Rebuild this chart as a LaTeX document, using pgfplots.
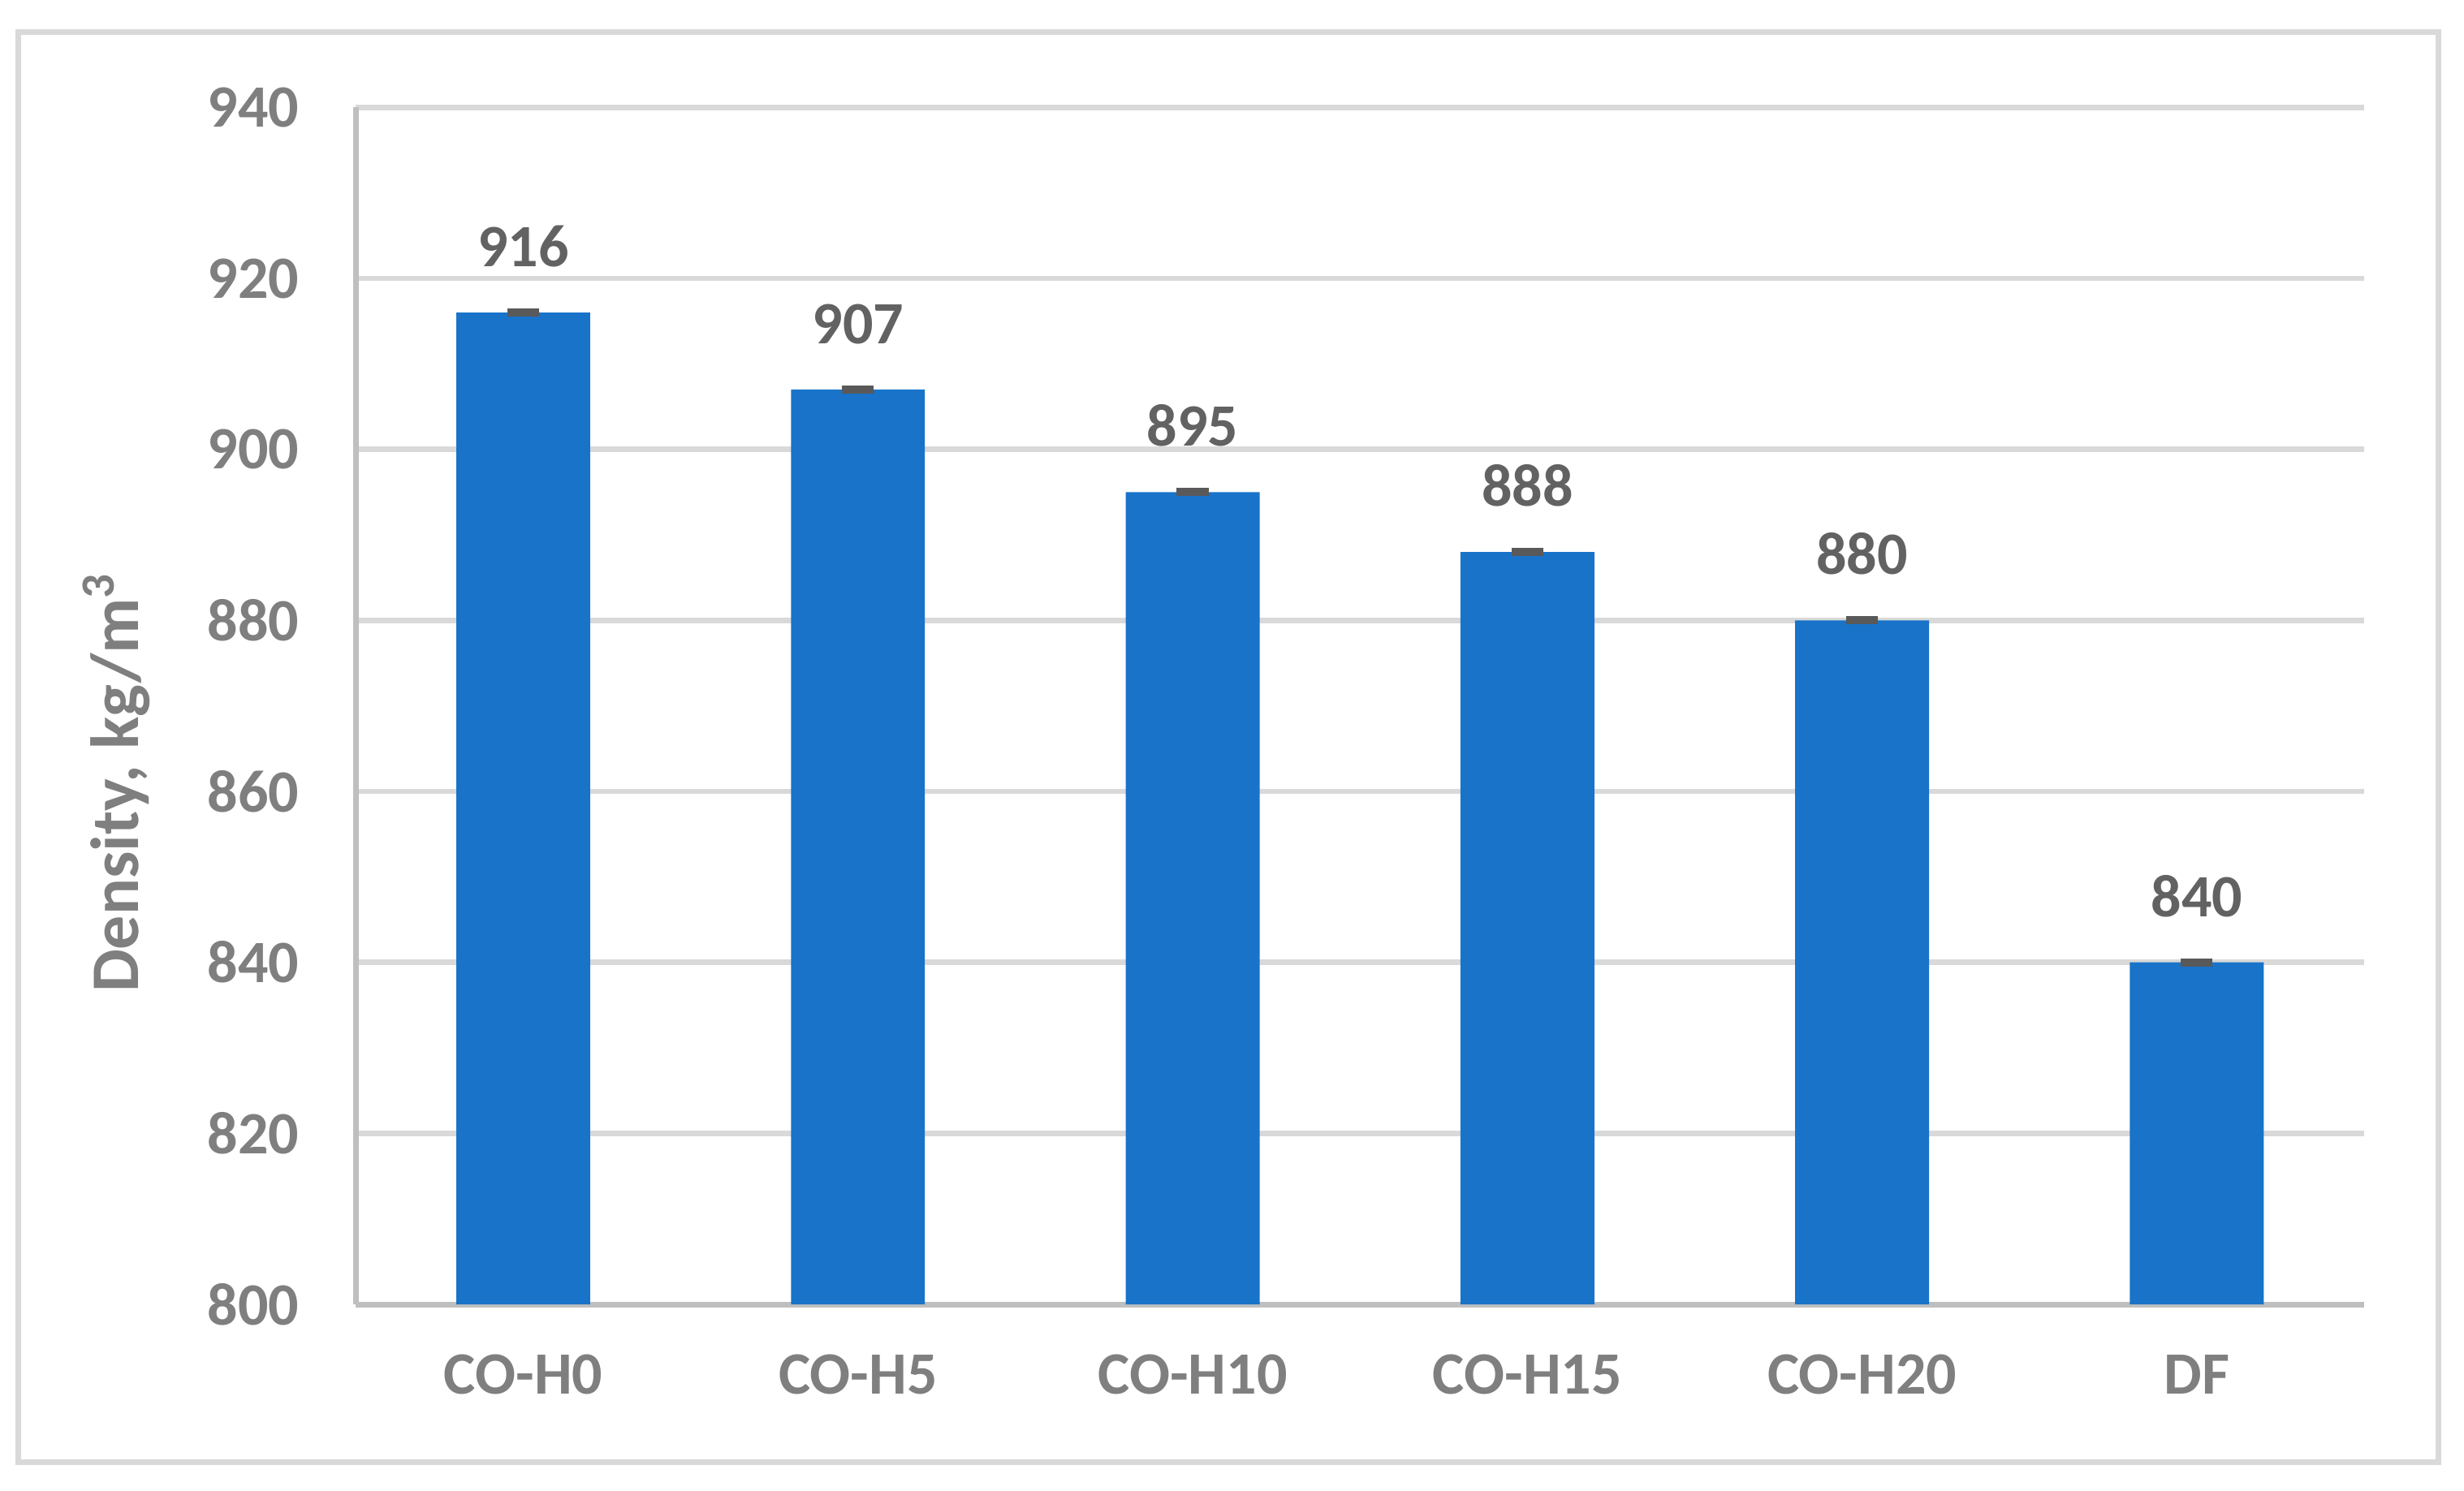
\documentclass[border=0pt]{standalone}
\usepackage{pgfplots}
\pgfplotsset{compat=1.18}
\usepackage{fontspec}
\setmainfont{Carlito}
\definecolor{barblue}{HTML}{1873C9}
\definecolor{gridgray}{HTML}{D9D9D9}
\definecolor{axisgray}{HTML}{BFBFBF}
\definecolor{ticktext}{HTML}{7F7F7F}
\definecolor{valtext}{HTML}{626262}
\definecolor{errgray}{HTML}{595959}
\begin{document}
\begin{tikzpicture}
\useasboundingbox (-109.6pt,-57.25pt) rectangle (649.15pt,401.75pt);
\draw[color=gridgray, line width=1.75pt] (-103.85pt,-48.5pt) rectangle (641.15pt,391.75pt);
\begin{axis}[
  at={(0,0)}, anchor=south west,
  scale only axis,
  width=618.4pt, height=368.65pt,
  xmin=-0.5, xmax=5.5,
  ymin=800, ymax=940,
  ytick={800,820,...,940},
  xtick={0,1,2,3,4,5},
  xticklabels={CO-H0,CO-H5,CO-H10,CO-H15,CO-H20,DF},
  ymajorgrids,
  grid style={color=gridgray, line width=1.7pt},
  axis x line*=bottom,
  axis y line*=left,
  axis line style={color=axisgray, line width=1.75pt, -},
  major tick length=0pt,
  tick label style={font=\fontsize{18.5}{22}\selectfont\bfseries, text=ticktext},
  /pgf/number format/assume math mode=true,
  yticklabel style={xshift=-14pt},
  xticklabel style={yshift=-12pt},
  ylabel={Density, kg/m\textsuperscript{3}},
  every axis y label/.style={at={(axis description cs:-0.1194,0.436)}, rotate=90, anchor=center, font=\fontsize{21}{24}\selectfont\bfseries, text=ticktext},
  ybar,
  bar width=0.4,
  nodes near coords,
  every node near coord/.append style={font=\fontsize{18.5}{22}\selectfont\bfseries, text=valtext, anchor=south, yshift=10.5pt},
  /pgf/number format/fixed,
]
\addplot[fill=barblue, draw=none,
  error bars/.cd, y dir=both, y explicit,
  error bar style={color=errgray, line width=1pt},
  error mark options={rotate=90, mark size=4.9pt, line width=2pt, color=errgray}]
  coordinates {
    (0,916) +- (0,0.1)
    (1,907) +- (0,0.1)
    (2,895) +- (0,0.1)
    (3,888) +- (0,0.1)
    (4,880) +- (0,0.1)
    (5,840) +- (0,0.1)
  };
\end{axis}
\end{tikzpicture}
\end{document}
